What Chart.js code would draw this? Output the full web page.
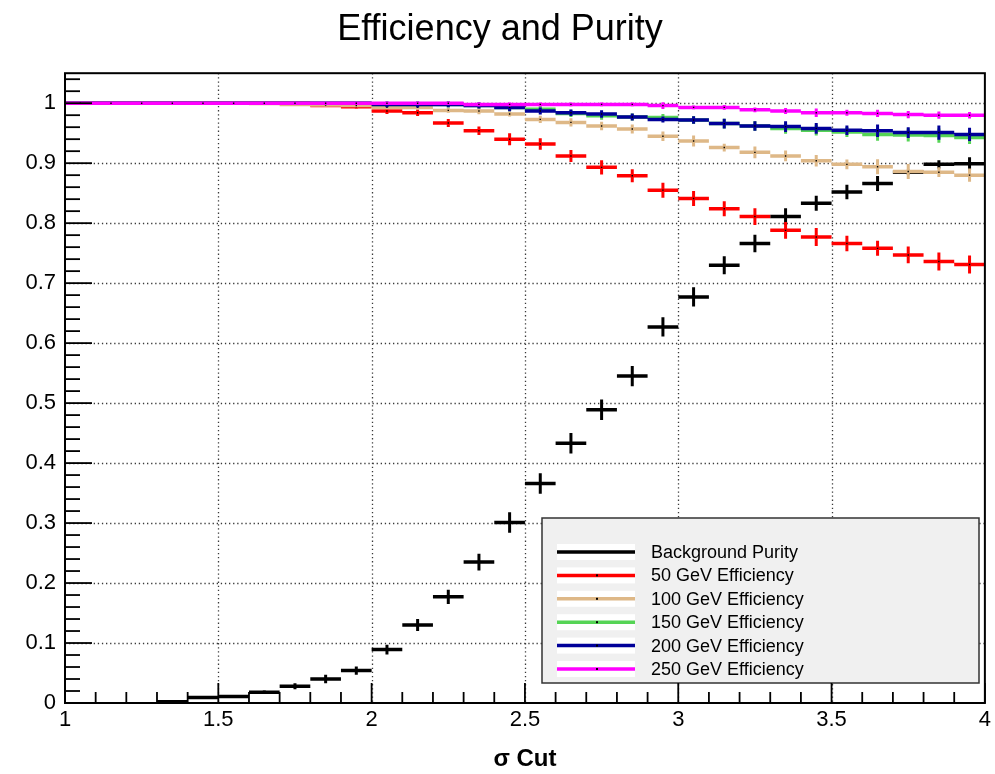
<!DOCTYPE html>
<html>
<head>
<meta charset="utf-8">
<title>Efficiency and Purity</title>
<script src="https://cdn.jsdelivr.net/npm/chart.js@4.4.1/dist/chart.umd.min.js"></script>
<style>
  html, body { margin: 0; padding: 0; background: #fff; }
  canvas { display: block; }
</style>
</head>
<body>
<canvas id="effChart" width="995" height="774"></canvas>
<script>
// bins of width 0.1 between 1 and 4
const binWidth = 0.1;
const binCenters = [
  1.05, 1.15, 1.25, 1.35, 1.45, 1.55, 1.65, 1.75, 1.85, 1.95,
  2.05, 2.15, 2.25, 2.35, 2.45, 2.55, 2.65, 2.75, 2.85, 2.95,
  3.05, 3.15, 3.25, 3.35, 3.45, 3.55, 3.65, 3.75, 3.85, 3.95,
];

const xTickValues = [1, 1.5, 2, 2.5, 3, 3.5, 4];
const yTickValues = [0, 0.1, 0.2, 0.3, 0.4, 0.5, 0.6, 0.7, 0.8, 0.9, 1];

const seriesNames = [
  'Background Purity',
  '50 GeV Efficiency',
  '100 GeV Efficiency',
  '150 GeV Efficiency',
  '200 GeV Efficiency',
  '250 GeV Efficiency',
];

const purity = [
  null, null, null, 0.002, 0.009, 0.011, 0.018, 0.028, 0.040, 0.054,
  0.089, 0.130, 0.177, 0.235, 0.301, 0.366, 0.433, 0.489, 0.545, 0.627,
  0.677, 0.730, 0.766, 0.811, 0.833, 0.852, 0.866, 0.885, 0.898, 0.899,
];
const purityErr = [
  null, null, null, 0.001, 0.002, 0.002, 0.003, 0.005, 0.007, 0.007,
  0.008, 0.010, 0.012, 0.014, 0.017, 0.017, 0.017, 0.017, 0.017, 0.016,
  0.016, 0.015, 0.0145, 0.014, 0.0125, 0.012, 0.0125, 0.004, 0.007, 0.011,
];

const eff50 = [
  1, 1, 1, 1, 1, 1, 1, 1, 0.996, 0.994,
  0.987, 0.984, 0.967, 0.954, 0.940, 0.932, 0.912, 0.893, 0.879, 0.855,
  0.841, 0.824, 0.811, 0.788, 0.777, 0.766, 0.758, 0.747, 0.736, 0.731,
];
const eff50Err = [
  0, 0, 0, 0, 0, 0, 0, 0, 0.002, 0.003,
  0.005, 0.0055, 0.0067, 0.007, 0.010, 0.0095, 0.010, 0.0117, 0.011, 0.0125,
  0.0125, 0.0125, 0.014, 0.014, 0.015, 0.013, 0.0125, 0.014, 0.015, 0.015,
];

const eff100 = [
  1, 1, 1, 1, 1, 1, 0.9995, 0.998, 0.997, 0.996,
  0.993, 0.993, 0.988, 0.987, 0.982, 0.973, 0.968, 0.962, 0.957, 0.945,
  0.937, 0.926, 0.918, 0.912, 0.904, 0.898, 0.894, 0.886, 0.885, 0.880,
];
const eff100Err = [
  0, 0, 0, 0, 0, 0, 0.001, 0.0015, 0.002, 0.0025,
  0.003, 0.0035, 0.004, 0.0055, 0.004, 0.006, 0.007, 0.007, 0.0075, 0.008,
  0.009, 0.0065, 0.0097, 0.009, 0.0097, 0.008, 0.0125, 0.0125, 0.008, 0.011,
];

const eff150 = [
  1, 1, 1, 1, 1, 1, 1, 1, 1, 1,
  0.998, 0.998, 0.998, 0.996, 0.993, 0.990, 0.983, 0.979, 0.977, 0.976,
  0.972, 0.966, 0.962, 0.958, 0.955, 0.952, 0.948, 0.947, 0.946, 0.943,
];
const eff150Err = [
  0, 0, 0, 0, 0, 0, 0, 0, 0, 0,
  0.0045, 0.0045, 0.005, 0.005, 0.0065, 0.006, 0.006, 0.0065, 0.006, 0.006,
  0.0065, 0.008, 0.008, 0.009, 0.009, 0.0085, 0.0105, 0.011, 0.012, 0.011,
];

const eff200 = [
  1, 1, 1, 1, 1, 1, 1, 1, 1, 1,
  0.998, 0.998, 0.998, 0.996, 0.993, 0.987, 0.984, 0.982, 0.977, 0.973,
  0.972, 0.966, 0.962, 0.961, 0.958, 0.955, 0.954, 0.951, 0.951, 0.948,
];
const eff200Err = [
  0, 0, 0, 0, 0, 0, 0, 0, 0, 0,
  0.0047, 0.005, 0.0047, 0.005, 0.0064, 0.006, 0.0055, 0.0064, 0.006, 0.005,
  0.0064, 0.008, 0.008, 0.009, 0.009, 0.008, 0.0105, 0.009, 0.012, 0.011,
];

const eff250 = [
  1, 1, 1, 1, 1, 1, 1, 1, 1, 1,
  1, 1, 1, 0.998, 0.998, 0.998, 0.998, 0.998, 0.998, 0.996,
  0.993, 0.993, 0.989, 0.987, 0.984, 0.984, 0.983, 0.981, 0.980, 0.980,
];
const eff250Err = [
  0, 0, 0, 0, 0, 0, 0, 0, 0, 0,
  0, 0, 0, 0.003, 0.003, 0.003, 0.003, 0.003, 0.003, 0.0055,
  0.0033, 0.004, 0.004, 0.005, 0.007, 0.005, 0.006, 0.006, 0.006, 0.0055,
];

const seriesValues = [purity, eff50, eff100, eff150, eff200, eff250];
const seriesErrors = [purityErr, eff50Err, eff100Err, eff150Err, eff200Err, eff250Err];
const seriesColors = ['#000000', '#ff0000', '#deb887', '#55d455', '#000099', '#ff00ff'];

const FONT = '"Liberation Sans", Arial, Helvetica, sans-serif';

// horizontal bar across each bin, broken between bins
function binSegments(values) {
  const pts = [];
  binCenters.forEach((c, i) => {
    if (values[i] === null) return;
    pts.push({ x: c - binWidth / 2, y: values[i] });
    pts.push({ x: c + binWidth / 2, y: values[i] });
    pts.push({ x: c, y: null });
  });
  return pts;
}

// vertical error bar at each bin centre
function errorBars(values, errors) {
  const pts = [];
  binCenters.forEach((c, i) => {
    if (values[i] === null) return;
    pts.push({ x: c, y: values[i] - errors[i] });
    pts.push({ x: c, y: values[i] + errors[i] });
    pts.push({ x: c, y: null });
  });
  return pts;
}

function centerMarks(values) {
  return binCenters
    .map((c, i) => ({ x: c, y: values[i] }))
    .filter((p) => p.y !== null);
}

function buildDatasets() {
  const sets = [];
  seriesValues.forEach((values, s) => {
    const color = seriesColors[s];
    const order = seriesValues.length - s;
    sets.push({
      label: seriesNames[s],
      data: binSegments(values),
      borderColor: color,
      borderWidth: 3.5,
      borderCapStyle: 'butt',
      pointRadius: 0,
      fill: false,
      spanGaps: false,
      order,
    });
    sets.push({
      label: seriesNames[s] + ' errors',
      data: errorBars(values, seriesErrors[s]),
      borderColor: color,
      borderWidth: 3,
      borderCapStyle: 'butt',
      pointRadius: 0,
      fill: false,
      spanGaps: false,
      order,
    });
    if (s > 0) {
      sets.push({
        label: seriesNames[s] + ' markers',
        data: centerMarks(values),
        showLine: false,
        pointRadius: 1,
        pointStyle: 'rect',
        pointBackgroundColor: '#000',
        pointBorderWidth: 0,
        order: order - 0.5,
      });
    }
  });
  return sets;
}

const rootStyle = {
  id: 'rootStyle',
  beforeDatasetsDraw(chart) {
    const { ctx, chartArea: a, scales: { x, y } } = chart;
    ctx.save();
    ctx.strokeStyle = '#3a3a3a';
    ctx.lineWidth = 1.3;
    ctx.setLineDash([1.3, 2.8]);
    xTickValues.forEach((v) => {
      if (v <= x.min || v >= x.max) return;
      const px = Math.round(x.getPixelForValue(v)) + 0.5;
      ctx.beginPath();
      ctx.moveTo(px, a.top);
      ctx.lineTo(px, a.bottom);
      ctx.stroke();
    });
    yTickValues.forEach((v) => {
      if (v <= y.min || v >= y.max) return;
      const py = Math.round(y.getPixelForValue(v)) + 0.5;
      ctx.beginPath();
      ctx.moveTo(a.left, py);
      ctx.lineTo(a.right, py);
      ctx.stroke();
    });
    ctx.restore();
  },
  afterDatasetsDraw(chart) {
    // legend box, lower right of the frame
    const { ctx } = chart;
    const box = { left: 542, top: 518, right: 979, bottom: 683 };
    ctx.save();
    ctx.fillStyle = '#f0f0f0';
    ctx.fillRect(box.left, box.top, box.right - box.left, box.bottom - box.top);
    ctx.strokeStyle = '#333';
    ctx.lineWidth = 1.5;
    ctx.strokeRect(box.left, box.top, box.right - box.left, box.bottom - box.top);
    ctx.font = '18px ' + FONT;
    ctx.textBaseline = 'middle';
    ctx.textAlign = 'left';
    seriesNames.forEach((name, s) => {
      const yRow = 552 + s * 23.4;
      ctx.fillStyle = '#fff';
      ctx.fillRect(557, yRow - 8, 78, 16);
      ctx.strokeStyle = seriesColors[s];
      ctx.lineWidth = 3.5;
      ctx.beginPath();
      ctx.moveTo(557, yRow);
      ctx.lineTo(635, yRow);
      ctx.stroke();
      if (s > 0) {
        ctx.fillStyle = '#000';
        ctx.fillRect(596, yRow - 1, 2, 2);
      }
      ctx.fillStyle = '#000';
      ctx.fillText(name, 651, yRow + 1);
    });
    ctx.restore();
  },
  afterDraw(chart) {
    const { ctx, chartArea: a, scales: { x, y } } = chart;
    ctx.save();
    ctx.strokeStyle = '#000';
    ctx.lineWidth = 1.8;
    // x ticks inside the frame, major every 0.5, minor every 0.1
    for (let k = 0; k <= 30; k++) {
      const v = 1 + k * 0.1;
      const px = x.getPixelForValue(v);
      const len = k % 5 === 0 ? 20 : 11;
      ctx.beginPath();
      ctx.moveTo(px, a.bottom);
      ctx.lineTo(px, a.bottom - len);
      ctx.stroke();
    }
    // y ticks, major every 0.1, minor every 0.02
    for (let k = 0; k <= 52; k++) {
      const v = k * 0.02;
      if (v > y.max) break;
      const py = y.getPixelForValue(v);
      const len = k % 5 === 0 ? 27 : 15;
      ctx.beginPath();
      ctx.moveTo(a.left, py);
      ctx.lineTo(a.left + len, py);
      ctx.stroke();
    }
    ctx.lineWidth = 2;
    ctx.strokeRect(a.left, a.top, a.right - a.left, a.bottom - a.top);
    ctx.restore();
  },
};

new Chart(document.getElementById('effChart'), {
  type: 'line',
  data: { datasets: buildDatasets() },
  options: {
    responsive: false,
    devicePixelRatio: 1,
    animation: false,
    events: [],
    layout: { padding: { left: 14, right: 9, top: 0, bottom: 0 } },
    plugins: {
      legend: { display: false },
      tooltip: { enabled: false },
      title: {
        display: true,
        text: 'Efficiency and Purity',
        color: '#000',
        font: { family: FONT, size: 36, weight: 'normal' },
        padding: { top: 8, bottom: 22 },
      },
    },
    scales: {
      x: {
        type: 'linear',
        min: 1,
        max: 4,
        afterFit(scale) { scale.height = 71; },
        afterBuildTicks(scale) { scale.ticks = xTickValues.map((v) => ({ value: v })); },
        grid: { display: false, drawTicks: false },
        border: { display: false },
        ticks: {
          color: '#000',
          padding: 4,
          maxRotation: 0,
          autoSkip: false,
          font: { family: FONT, size: 22 },
          callback: (v) => String(v),
        },
        title: {
          display: true,
          text: 'σ Cut',
          color: '#000',
          font: { family: FONT, size: 24, weight: 'bold' },
          padding: { top: 0, bottom: 0 },
        },
      },
      y: {
        type: 'linear',
        min: 0,
        max: 1.05,
        afterFit(scale) { scale.width = 51; },
        afterBuildTicks(scale) { scale.ticks = yTickValues.map((v) => ({ value: v })); },
        grid: { display: false, drawTicks: false },
        border: { display: false },
        ticks: {
          color: '#000',
          padding: 9,
          autoSkip: false,
          font: { family: FONT, size: 22 },
          callback: (v) => String(v),
        },
      },
    },
  },
  plugins: [rootStyle],
});
</script>
</body>
</html>
